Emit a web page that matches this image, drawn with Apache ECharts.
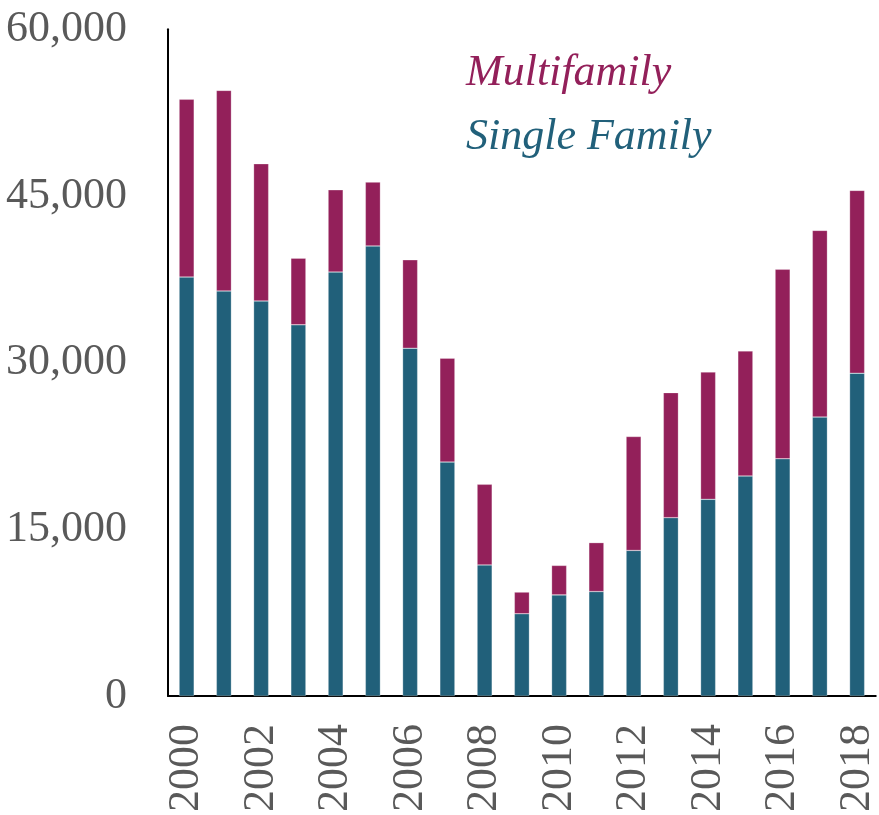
<!DOCTYPE html>
<html>
<head>
<meta charset="utf-8">
<script src="https://cdn.jsdelivr.net/npm/echarts@6/dist/echarts.min.js"></script>
<style>
html,body{margin:0;padding:0;background:#fff;}
#chart{width:879px;height:815px;}
</style>
</head>
<body>
<div id="chart"></div>
<script>
const years = ['2000','2001','2002','2003','2004','2005','2006','2007','2008','2009','2010','2011','2012','2013','2014','2015','2016','2017','2018'];
const singleFamily = [37700,36450,35550,33400,38150,40500,31300,21050,11800,7400,9100,9400,13100,16050,17700,19800,21350,25100,29050];
const multifamily  = [16000,18050,12350,6000,7400,5750,7950,9350,7250,1950,2650,4400,10250,11250,11450,11250,17050,16800,16450];
const yTicks = [0,15000,30000,45000,60000];

const fontFam = '"Liberation Serif", "Times New Roman", serif';
const chart = echarts.init(document.getElementById('chart'));
chart.setOption({
  animation:false,
  backgroundColor:'#fff',
  grid:{left:168, top:29.3, width:712, bottom:118.3, containLabel:false},
  legend:{
    data:[{name:'Multifamily', textStyle:{color:'#93205A'}},{name:'Single Family', textStyle:{color:'#21607A'}}],
    orient:'vertical', left:456, top:46, icon:'none', itemWidth:0, itemHeight:0, itemGap:20,
    textStyle:{fontFamily:fontFam, fontStyle:'italic', fontSize:44}
  },
  xAxis:{
    type:'category', data:years,
    axisLine:{lineStyle:{color:'#000', width:2}},
    axisTick:{show:false},
    axisLabel:{interval:1, rotate:90, margin:28, color:'#595959', fontFamily:fontFam, fontSize:44}
  },
  yAxis:{
    type:'value', min:yTicks[0], max:yTicks[yTicks.length-1], interval:yTicks[1]-yTicks[0],
    splitLine:{show:false},
    axisLine:{show:true, lineStyle:{color:'#000', width:2}},
    axisTick:{show:false},
    axisLabel:{margin:41, color:'#595959', fontFamily:fontFam, fontSize:44,
      formatter:v=>v.toLocaleString('en-US')}
  },
  series:[
    {name:'Single Family', type:'bar', stack:'t', data:singleFamily, barWidth:15,
     itemStyle:{color:'#21607A', borderColor:'rgba(255,255,255,0.5)', borderWidth:0.5}},
    {name:'Multifamily', type:'bar', stack:'t', data:multifamily, barWidth:15,
     itemStyle:{color:'#93205A', borderColor:'rgba(255,255,255,0.5)', borderWidth:0.5}}
  ]
});
</script>
</body>
</html>
